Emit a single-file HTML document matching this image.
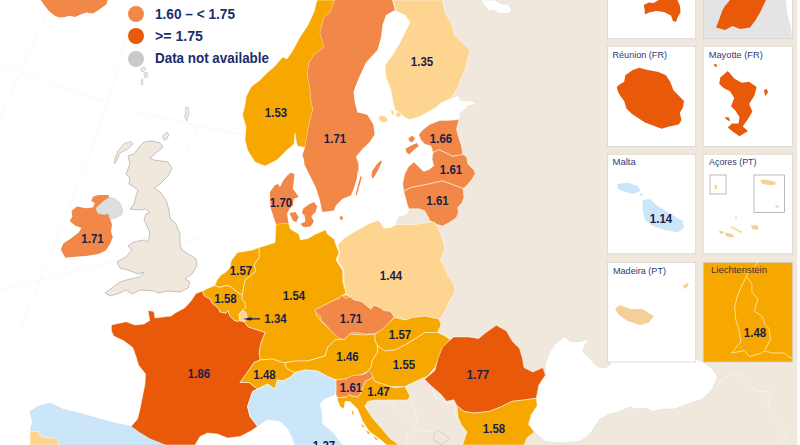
<!DOCTYPE html>
<html><head><meta charset="utf-8"><title>map</title>
<style>
html,body{margin:0;padding:0;background:#fff;}
body{width:800px;height:445px;overflow:hidden;font-family:"Liberation Sans",sans-serif;}
svg{display:block}
.v{font:bold 12.3px "Liberation Sans",sans-serif;fill:#1b1e46}
.lg{font:bold 14px "Liberation Sans",sans-serif;fill:#1b2d6b}
.pl{font:9.5px "Liberation Sans",sans-serif;fill:#2c3a78}
</style></head><body>
<svg width="800" height="445" viewBox="0 0 800 445">
<rect width="800" height="445" fill="#fff"/>
<g stroke="#f6f6f6" stroke-width="0.8" fill="none">
<path d="M45,17 L0,118"/><path d="M0,65 L108,103"/><path d="M133,17 L104,111 L75,194 L20,330"/><path d="M133,111 L200,126 L320,150"/><path d="M200,124 L182,161"/><path d="M0,290 L120,260 L200,238"/>
</g>
<polygon points="430,0 800,0 800,445 394,445 388,438 378,427 370,416.5 366,406.5 360,390 340,380 330,360 345,250 395.8,226 395.8,224.6 397.1,219.8 398.5,217 406.8,214.3 408.8,210 412,196 440,186 447,160 447,140 459,119 459.7,112.7 464,110 468,105 475.5,103.9 473,102 460.4,100.8 457.9,95.7 450.3,99 440,90 430,50" fill="#f0e8dd"/>
<polygon points="480,0 485,6 489,11 493,10 499,13.5 509,13.5 512,10 508,4 503,4.5 498,2 495,0" fill="#fff" stroke="#d8d8d8" stroke-width="0.5" stroke-linejoin="round"/>
<polygon points="545.4,375 545,364 550,351.5 555,344 565,336.5 570,341.5 580,341.5 589,339 585,345 582.5,351.5 587.5,356.5 597.5,366.5 605,368 610,365 612,355 696,355 696,359 705,363 712.5,369 717.5,376.5 712.5,389 702.5,399 687.5,404 675,409 662.5,409 652.5,411.5 645,408 635,409 630,406.5 620,411.5 610,414 600,419 590,434 580,441.5 560,443 545,441.5 534.3,432 528.4,424.6 531.3,414.4 537.2,405.6 536.3,398.3 538.7,385.2" fill="#fff" stroke="#d8d8d8" stroke-width="0.5" stroke-linejoin="round"/>
<polygon points="144,142 152,141 160,143 163,147 150,158 154,160 168,162 172,168 168,176 160,184 154,188 160,192 166,200 169,210 170,218 176,224 180,234 180,244 182,250 190,255 196,259 197,266 192,274 185,279 190,282 188,288 180,292 168,291 158,293 154,291 140,290 132,294 126,290 120,293 110,296 105,293 112,288 120,282 130,279 140,277 144,272 138,274 128,270 120,268 117,262 126,257 132,250 128,246 134,242 144,240 148,242 150,234 148,228 144,220 146,214 150,213 146,209 140,210 130,209 134,204 136,196 138,190 134,187 129,184 130,178 126,174 130,164 128,156 134,154 140,146" fill="#f0e8dd" stroke="#b4b4b4" stroke-width="0.8" stroke-linejoin="round"/>
<polygon points="124,143.5 131,141.5 133,144 128,149 120,153 117,160 114.5,164 115,158 118,151" fill="#f0e8dd" stroke="#b4b4b4" stroke-width="0.7" stroke-linejoin="round"/>
<polygon points="163,135 167,132 169,135 166,140 163,139" fill="#f0e8dd" stroke="#b4b4b4" stroke-width="0.6" stroke-linejoin="round"/>
<polygon points="93,196.7 98.5,195 108.3,195 109.2,197.6 103.9,201 97.6,206.5 95.8,209 98.5,213.7 103.9,214.6 108.3,213.7 110.1,219 112,224.5 111,231.7 112.8,237 110.1,244 105.7,250.5 98.5,254 85.9,256 75,256.8 65.3,257.7 60.8,249.6 63.5,243.3 71.5,238 78.7,232.6 81.4,228 75,225.4 69.7,221 72.4,216.4 71.5,211 77,206.5 85.9,208.3 93,207.4 94.9,203 91.3,201" fill="#f28848"/>
<polygon points="109.2,197.6 114.6,198.5 120,203 122.7,210 121.8,214.6 115.5,218 110.1,219 108.3,213.7 103.9,214.6 98.5,213.7 95.8,209 97.6,206.5 103.9,201" fill="#dedede" stroke="#c4c4c4" stroke-width="0.6" stroke-linejoin="round"/>
<polygon points="40.7,0 44.6,5.6 49.1,11.2 54.7,15.7 59.2,17.4 64.9,16.9 69.4,15.7 75,16.9 80.6,14.6 86.2,12.4 93,13.5 97.5,10.7 103.1,6.7 106.5,3.9 107.6,0" fill="#f28848"/>
<polygon points="317,0 314,12 308,25 300,37 293,50 287,59 283,57 280,60 275,66 268,72 260,80 251,87 246,97 245,105 242.5,115 246,127 245,140 247.5,150 255,162 265,166 277,160 287,150 294,144 295,133 296,140 297.5,146 305,147.5 307.5,132.5 310,120 313,110 311,100 310,87.5 307.5,75 309,62.5 315,54 324,47.5 320,32.5 324,17.5 330,12.5 335,0" fill="#f7a800" stroke="#fff" stroke-width="0.5" stroke-linejoin="round"/>
<polygon points="335,0 330,12.5 324,17.5 320,32.5 324,47.5 315,54 309,62.5 307.5,75 310,87.5 311,100 313,110 310,120 307.5,132.5 305,147.5 302.5,155 304,160 304.6,165 310.5,176.8 315.6,186.9 319,197 321.4,207 322.3,212 334,210.5 335.8,205.4 342.5,198.7 351,195.3 354.3,186.9 356.8,178.5 357.6,170 358.5,174 358.5,164 356,156.7 362.2,149.3 369.6,141.9 374.6,134.4 373.3,124.6 367.2,114.7 357.3,112.2 354.8,102.3 353.6,92 355,87.5 359,77.5 366,62.5 377.5,50 381,37.5 382.5,25 386,15 395,10 392.5,0" fill="#f28848"/>
<polygon points="380.7,160.4 382,161.5 379.5,167 376,174 372.5,179 371.5,176 372,171.5 377,164" fill="#f28848"/>
<polygon points="360.5,176 361.8,177 358.8,188 356.5,195.5 355.5,194.5 357.8,186" fill="#f28848"/>
<polygon points="392.5,0 396,11 405,15 410,22.5 405,32.5 400,42.5 392.5,55 385,65 386,77.5 391,90 392.5,100 395,110 400,112.7 405,117.7 410,119.6 420,116.5 429,111.5 436.5,107 441.5,102.6 450,99 454,94 458.5,86.3 460.4,80 465,70 470,50 454,35 452.5,25 445,12.5 442.5,0" fill="#fdd490" stroke="#fff" stroke-width="0.5" stroke-linejoin="round"/>
<polygon points="378.5,117 382,115.5 386,117 388,121 384,122.5 380,121" fill="#fdd490"/>
<polygon points="391,111 393,110 394,114 392,115" fill="#fdd490"/>
<polygon points="396,113 400,112 401,116 397,117" fill="#fdd490"/>
<polygon points="418.8,134.6 422.5,130 430,124.3 439.5,120.5 450.3,120.3 458.4,119.5 459.3,118.6 456.5,129 458.4,136.5 461.2,145 463,154.5 452.7,156.3 445.2,152.6 438.6,149.7 433,152.6 431,146 424.4,144 420.6,139.4" fill="#f28848" stroke="#fff" stroke-width="0.5" stroke-linejoin="round"/>
<polygon points="408.4,138.4 412.2,135.6 415,138.4 412.2,142.2 409.3,141.2" fill="#f28848"/>
<polygon points="405.5,148.8 410.3,146 416.9,143 418.8,146 414,149.7 409.3,154.5 406.5,152.6" fill="#f28848"/>
<polygon points="433,152.6 438.6,149.7 445.2,152.6 452.7,156.3 463,154.5 466.9,157.3 467.8,163.9 473.5,169.5 475.4,173.3 471.6,180 465,187.5 463,188.4 452.7,184.6 442.3,180.9 426.3,184.6 411.2,187.5 403.7,191.2 402.7,183.7 404.6,174.3 408.4,166.7 414,162 418.8,166.7 423.5,171.4 429,169.5 433.8,165.8 432,159.2" fill="#f28848" stroke="#fff" stroke-width="0.5" stroke-linejoin="round"/>
<polygon points="403.7,191.2 411.2,187.5 426.3,184.6 442.3,180.9 452.7,184.6 463,188.4 464,197.5 461.8,203.3 457.7,207.4 458.4,212.9 456.3,217.7 449.4,222.5 442.5,226 437,224.6 430.2,221 427.4,215.6 424.6,210.8 419,208.8 408.8,208.8 407.5,205.3 405,196" fill="#f28848" stroke="#fff" stroke-width="0.5" stroke-linejoin="round"/>
<polygon points="317.5,309 330,302.5 341,297.5 346,295 352.5,299 362.5,302.5 372.5,307.5 377.5,305 387.5,311 395,317.5 387.5,324 382.5,329 375,334 362.5,335 350,334 345,339 335,334 327.5,327 322.5,322.5 316,315" fill="#f7a800"/>
<polygon points="337.5,245 345,237.5 357.5,230 360,228.7 368.3,223.9 377.9,220.4 380.6,222.5 383.4,228 390.3,228 395.8,224.6 415,224.6 431.5,221.8 435,222.5 438.4,228 441.2,234.9 443,240 445,250 440,260 445,267.5 447.5,275 454,285 455,292.5 450,300 445,311 441,318 439,319 425,316 412.5,317.5 405,320 394.3,316.7 390.2,311.3 383.5,310.6 380.8,307.9 374,305.2 370.7,309.3 365.9,305.2 361.9,301.8 353.8,299.8 349.8,296.5 346,294.5 344,282.5 344,270 337.5,260 340,252.5" fill="#fdd490" stroke="#fff" stroke-width="0.5" stroke-linejoin="round"/>
<polygon points="259,247.5 267.5,245 275,242.5 276,224 288.6,223 290.3,229 298.7,234 300.4,240 308,238.5 315.6,234 325.7,229.8 327.3,234 334,239 336,245 339,252.5 336,260 342.5,270 343,282.5 346,293 340,297.5 330,302.5 317.5,309 316,315 322.5,322.5 327.5,327 335,334 345,339 335,340 327.5,347.5 325,356 307.5,361 295,361 286,362.5 282.5,362.5 272.5,359 260,360 259,352.5 261,342.5 265,332.5 248,327 244.4,322 247,317.6 245.7,312 242,310.8 245.7,307 244.4,301.6 242,299.7 242,295.4 243,290 245,280 256,271 254,265 259,257.5" fill="#f7a800" stroke="#fff" stroke-width="0.5" stroke-linejoin="round"/>
<polygon points="291,172.6 294.5,174.3 293.7,181.8 292.8,188.6 297,194.5 298.7,197 293.7,198.7 292.8,205.4 289.5,208.8 287,213.8 287.8,218.9 288.6,223 276,224 273.5,217 271,208.8 270,198.7 270,192 275,185 278,184 280,187 282,183 283.6,180 287.8,175" fill="#f28848"/>
<polygon points="289.5,213 295.4,212 298.7,217.2 296.2,222.2 292.8,220.6" fill="#f28848"/>
<polygon points="303,208.8 308.8,204.6 313.9,202 317.2,206.2 315.6,212 311.3,216.3 313.9,221.4 310.5,226.4 303.8,227.3 300.4,224 305.5,221.4 304.6,215.5 302,213" fill="#f28848"/>
<polygon points="340.8,215.5 343.3,218 341.6,220.6 339.5,218" fill="#f28848"/>
<polygon points="231,261 237.5,252.5 252.5,250 259,247.5 259,257.5 254,265 256,271 245,280 243,290 242,295.4 239.5,293.5 234.5,289.8 230.8,286.7 225.9,285.5 219.7,287.4 214.8,285.5 217,280 221,275 226,272 230,267.5" fill="#f7a800" stroke="#fff" stroke-width="0.5" stroke-linejoin="round"/>
<polygon points="202.4,291 208.6,288 214.8,285.5 219.7,287.4 225.9,285.5 230.8,286.7 234.5,289.8 239.5,293.5 242,295.4 242,299.7 244.4,301.6 245.7,307 242,310.8 238.9,314.5 240,320.7 237.6,321.4 234.5,320.7 229.6,315.8 227.8,310.8 225.9,313.3 219.7,312 218.5,308.4 212.3,303.4 209.8,299 204.3,296" fill="#f7a800" stroke="#fff" stroke-width="0.5" stroke-linejoin="round"/>
<polygon points="202.4,291 204.3,296 209.8,299 212.3,303.4 218.5,308.4 219.7,312 225.9,313.3 227.8,310.8 229.6,315.8 234.5,320.7 237.6,321.4 240,320.7 244.4,322 248,327 265,332.5 261,342.5 259,352.5 260,360 254,362.5 249,370 240,382.5 249,382.5 257.5,389 252.5,391.5 250,399 247.5,406.5 250,416.5 257.5,426.5 250,431.5 240,436.5 227.5,438 217.5,434 207.5,433 200,436.5 195,445 165,445 150,439 140,433 131,426.5 137.5,419 140,409 142.5,396.5 145,384 145.5,374 138.5,365 136,356.6 132.8,347.6 123.8,340.8 113.6,336 111.4,330.7 111.4,325 126,321.7 135,325 144,324 149.7,320.5 148,310.4 154,311.5 155,318 171,316 175.6,312.7 184.6,308 191,301 196,293.5" fill="#e85a0a" stroke="#fff" stroke-width="0.5" stroke-linejoin="round"/>
<polygon points="242,310.8 245.7,312 247,317.6 244.4,322 240,320.7 238.9,314.5" fill="#fdd490" stroke="#fff" stroke-width="0.4" stroke-linejoin="round"/>
<polygon points="260,360 272.5,359 282.5,362.5 286,362.5 285,365 287.5,369 295,372.5 290,377.5 282.5,381 277.5,380 275,389 267.5,384 257.5,389 249,382.5 240,382.5 249,370 254,362.5" fill="#f7a800" stroke="#fff" stroke-width="0.5" stroke-linejoin="round"/>
<polygon points="286,362.5 295,361 307.5,361 325,356 327.5,347.5 335,340 345,339 350,334 362.5,335 375,334 375,340 377.5,346 377.5,352.5 372.5,360 371,367.5 367.5,371.5 357.5,376.5 345,379 336,380 327.5,376.5 317.5,371 305,370 295,372.5 287.5,369 285,365" fill="#f7a800" stroke="#fff" stroke-width="0.5" stroke-linejoin="round"/>
<polygon points="314.7,310 322.8,305.9 330.9,301.8 339.7,297.8 341.7,295.1 345.7,298.5 349.8,296.5 353.8,299.8 361.9,301.8 365.9,305.2 370.7,309.3 374,305.2 380.8,307.9 383.5,310.6 390.2,311.3 394.3,316.7 390.9,320.7 387.5,325.4 382.1,330.1 375.4,333.5 366,334.2 357.9,332.8 351.1,332.8 347.1,336.9 343.7,339.6 338.3,337.6 332.3,332.2 326.9,326.1 321.5,320.7 320.1,316 316.8,313.3" fill="#f28848" stroke="#fff" stroke-width="0.5" stroke-linejoin="round"/>
<polygon points="395,317.5 405,320 412.5,317.5 425,316 439,319 441,325 437.5,332.5 425,332.5 415,339 405,345 395,350 385,351 377.5,346 375,340 375,334 382.5,329 387.5,324" fill="#f7a800" stroke="#fff" stroke-width="0.5" stroke-linejoin="round"/>
<polygon points="377.5,352.5 377.5,346 385,351 395,350 405,345 415,339 425,332.5 437.5,332.5 445,336 450,340 442.5,347.5 439,357.5 435,367.5 427.5,376 415,381.5 405,386.5 390,386.5 375,381.5 371,374 367.5,371.5 371,367.5 372.5,360" fill="#f7a800" stroke="#fff" stroke-width="0.5" stroke-linejoin="round"/>
<polygon points="372.7,376.6 375,381.5 382.5,384 395,388 405,386.5 410,396.5 407.5,400 392.5,400 375,400 367.5,401.5 365,406.5 372,417.5 381,428 390,438.5 396,443 399,445 387,445 381,440 369,431 362.5,421 357.5,409 350,401.5 345,401.5 344,409 340,406.5 337.5,400 337.5,397.7 346.7,396.8 349.4,394.5 352,395.9 357.4,396.8 360.1,394.5 361.9,389.2 363.7,384.7 365.5,381 370,378.8" fill="#f7a800" stroke="#fff" stroke-width="0.5" stroke-linejoin="round"/>
<polygon points="335.5,382.9 335.8,380 338.6,379.5 346,378.8 352,375.7 361.9,374.8 366.4,373 368.2,370.3 371.8,373.9 372.7,376.6 370,378.8 365.5,381 363.7,384.7 361.9,389.2 360.1,394.5 357.4,396.8 352,395.9 349.4,394.5 346.7,396.8 337.5,397.7 336,394.5 335.9,390 336,386.5" fill="#f28848" stroke="#fff" stroke-width="0.5" stroke-linejoin="round"/>
<polygon points="424.6,379.3 434.9,370.6 437.8,358.9 442.5,347 450,340 453.9,336.9 468.5,336.9 478.7,338.4 486,332.5 496.3,325.2 506.5,331 512.3,341.3 519.6,348.6 522.6,358.9 524,367.6 532.8,372 543,367.6 545.4,375 538.7,385.2 536.3,398.3 525.5,399.8 512.3,401.3 500.6,407 489,411.5 474.3,413 464,411.5 456.8,405.6 453.9,399.8 446.5,401.3 440.7,394 431.9,386.6" fill="#e85a0a" stroke="#fff" stroke-width="0.5" stroke-linejoin="round"/>
<polygon points="456.8,405.6 464,411.5 474.3,413 489,411.5 500.6,407 512.3,401.3 525.5,399.8 536.3,398.3 537.2,405.6 531.3,414.4 528.4,424.6 534.3,432 527,437.8 524,445 462.6,445 467,432 461.2,424.6 458.2,417.3" fill="#f7a800" stroke="#fff" stroke-width="0.5" stroke-linejoin="round"/>
<polygon points="252.5,391.5 257.5,389 267.5,384 275,389 277.5,380 282.5,381 290,377.5 295,372.5 305,370 317.5,371 327.5,376.5 336,380 336,390 335,395 325,399 320,404 322.5,414 322.5,424 332.5,431.5 340,441.5 342.5,445 294,445 292.5,439 287.5,429 280,421.5 267.5,420 257.5,426.5 250,416.5 247.5,406.5 250,399" fill="#cbe5f9" stroke="#fff" stroke-width="0.5" stroke-linejoin="round"/>
<polygon points="30,411.5 37.5,406.5 50,403 62.5,409 82.5,414 100,419 115,423 131,426.5 140,433 150,439 165,445 60,445 57.5,439 41,436.5 39,431.5 30,431.5 32.5,421.5" fill="#cbe5f9" stroke="#c9d6e2" stroke-width="0.5" stroke-linejoin="round"/>
<polygon points="30,431.5 39,431.5 41,436.5 57.5,439 60,445 30,445" fill="#fdd490" stroke="#fff" stroke-width="0.5" stroke-linejoin="round"/>
<g fill="none" stroke="#f8f4ec" stroke-width="0.8" stroke-linejoin="round">
<polyline points="716,387 723.5,378 732.5,373.5 743,376.5 752,387 758,391.5 770,391.5 767,399 770,411 779,424.5 788,433.5 782,441 770,445"/>
<polyline points="411.7,399.5 417,417.5 415.5,429.5 408,434 406.5,445"/>
<polyline points="415.5,429.5 425,432 435,430"/>
<polyline points="432.5,389.5 436,398 446,402 455,404 456,417.5"/>
<polyline points="390,400 398,412 408,420 415.5,422"/>
</g>
<polyline points="435,430 433.5,440 441,445 450,438.5 444,434 437,430" fill="none" stroke="#b9b5ad" stroke-width="0.5"/>
<g fill="#f0e8dd" stroke="#b4b4b4" stroke-width="0.5">
<polygon points="141,68 144,66.5 146,69 143,72 141,71"/><polygon points="144,73 147,72 148,76 145,78"/><polygon points="141,80 142.5,79 143,84 141.5,85"/>
<polygon points="185,108 188,107 189,113 187,121 184.5,117 186,112"/>
</g>
<g fill="#f7a800">
<polygon points="361,424 364,426 363,428"/><polygon points="366,430 370,433 368,434"/><polygon points="373,436 378,439 376,440"/><polygon points="352,410 354,413 352.5,415"/>
</g>
<g><rect x="607.5" y="-10" width="88.25" height="48.75" fill="#fff" stroke="#d3d1cb" stroke-width="0.7"/>
<rect x="703.25" y="-10" width="89.25" height="48.75" fill="#e4e4e4" stroke="#d3d1cb" stroke-width="0.7"/>
<rect x="607.5" y="46.25" width="88.25" height="100.25" fill="#fff" stroke="#d3d1cb" stroke-width="0.7"/>
<rect x="703.25" y="46.25" width="89.25" height="100.25" fill="#fff" stroke="#d3d1cb" stroke-width="0.7"/>
<rect x="607.5" y="154.25" width="88.25" height="99.5" fill="#fff" stroke="#d3d1cb" stroke-width="0.7"/>
<rect x="703.25" y="154.25" width="89.25" height="99.5" fill="#fff" stroke="#d3d1cb" stroke-width="0.7"/>
<rect x="607.5" y="262.5" width="88.25" height="99.5" fill="#fff" stroke="#d3d1cb" stroke-width="0.7"/>
<rect x="703.25" y="262.5" width="89.25" height="99.5" fill="#f7a800" stroke="#d3d1cb" stroke-width="0.7"/></g>
<g><polygon points="643.75,5 648.75,2.5 653.75,3 658.75,0 677.5,0 680,6 680.5,12.5 677.5,17.5 676,22 673,21 671,15.5 664,12 656,11 649,12.5 645,14.5 644.5,9" fill="#e85a0a"/>
<polygon points="786,0 792.1,0 792.1,38.3 791,27.5 787.5,15" fill="#fff"/>
<polygon points="722.5,10 725,6 730,0 766,0 760,12.5 755,21 750,27.5 740,29 732.5,26 725,30 716,27.5 719,20" fill="#e85a0a"/>
<polygon points="616.8,87 618.9,84.9 624.2,81.7 625.3,75.3 632.8,70 639.2,67.8 647.7,70 658.4,72 665.9,75.3 670.2,81.7 673.4,90.3 679.8,96.7 684,100.9 683,107.4 679.8,112.7 681.5,120.2 678.7,124.4 669.1,126.6 661.6,128.7 653,125.5 644.5,122.3 638.1,118 631.7,113.8 626.4,108.4 624.2,101 620,95.6 617.8,91.3" fill="#e85a0a"/>
<polygon points="727.8,71 734.2,78.5 741.7,82.8 749.1,81.7 756.6,87 754.5,95.6 749.1,104 752.4,111.6 748,119 742.7,126.6 748,130.9 739.5,136.2 732,130.9 727.8,127.6 732,123.4 738.5,123.4 739.5,117 735.3,110.6 731,106.3 734.2,97.7 730,91.3 723.5,88 719.2,83.8 720.3,77.4" fill="#e85a0a"/>
<polygon points="764,90.3 766.7,88.8 768,92.4 765.2,96" fill="#e85a0a"/>
<polygon points="714,64 716.5,64.3 717,66.8 714.5,66.5" fill="#e85a0a"/>
<polygon points="724.6,117 729,117.5 730,121.2 727,120" fill="#e85a0a"/>
<polygon points="617.5,184 627.5,182.5 637.5,186 641,191 632.5,194 622.5,191 617.5,189" fill="#cbe5f9"/>
<polygon points="640,193.5 643,194 642,196 640,195.5" fill="#cbe5f9"/>
<polygon points="642.5,200 650,199 657.5,206 672.5,215 682.5,221 684,227.5 677.5,232.5 665,230 652.5,226 645,220 642.5,210" fill="#cbe5f9"/>
<rect x="710" y="175" width="16" height="19" fill="none" stroke="#8a8a8a" stroke-width="0.6"/>
<rect x="754" y="175" width="30.5" height="37.5" fill="none" stroke="#8a8a8a" stroke-width="0.6"/>
<polygon points="714.5,185 717,185 717,189 714.5,189" fill="#f6cf98"/>
<polygon points="760,180 765,179.5 772,181 776,182 775,185 768,185 762,183.5" fill="#f6cf98"/>
<polygon points="775,205.5 778,205.5 779,207.5 776,207.5" fill="#f6cf98"/>
<polygon points="735,217 737,217 737,218.5 735,218.5" fill="#f6cf98"/>
<polygon points="730,227 732,226.5 742.5,232 741,233" fill="#f6cf98"/>
<polygon points="751,225.5 757,225 759,228 756,230 752,229" fill="#f6cf98"/>
<polygon points="719,231 723,231 724,233.5 720,234" fill="#f6cf98"/>
<polygon points="725,232.5 731,233.5 735,236.5 730,237.5 726,236" fill="#f6cf98"/>
<polygon points="615,309 620,305 630,309 642.5,309 650,314 654,316 649,322.5 640,325 627.5,321 619,315" fill="#f6cf98"/>
<polygon points="682.5,286 687.5,283 689,285 685,289" fill="#f6cf98"/>
<polyline points="758,262.6 749.4,270.3 745.7,277.8 740.7,287.6 737,297.5 734.6,307.4 735.8,319.7 739.5,332 740.7,342 734.6,349.4 731.6,353 744.4,350.6 749.4,356.8 761.7,353 764.7,350.6 770.4,339.5 769,328.4 765.4,324.7 761.7,316 754.3,311 758,298.7 751.9,292.6 751.9,284 746.5,276.5" fill="none" stroke="#fff3d6" stroke-width="0.7" stroke-linejoin="round"/>
<polyline points="764.7,351.3 774,353 784,353 789,356.8 791.9,358" fill="none" stroke="#fff3d6" stroke-width="0.7" stroke-linejoin="round"/></g>
<!-- arrow -->
<path d="M243,318.9 L250.5,317.2 L252.5,318.3 L260,318.3 L260,319.5 L252.5,319.5 L250.5,320.6 Z" fill="#1d2555"/>
<rect x="797.3" y="0" width="3" height="445" fill="#fff"/>
<g><text x="264.85" y="116.8" class="v" textLength="22.3" lengthAdjust="spacingAndGlyphs">1.53</text>
<text x="323.85" y="143.3" class="v" textLength="22.3" lengthAdjust="spacingAndGlyphs">1.71</text>
<text x="410.85" y="66.3" class="v" textLength="22.3" lengthAdjust="spacingAndGlyphs">1.35</text>
<text x="269.85" y="206.8" class="v" textLength="22.3" lengthAdjust="spacingAndGlyphs">1.70</text>
<text x="81.35" y="243.3" class="v" textLength="22.3" lengthAdjust="spacingAndGlyphs">1.71</text>
<text x="429.85" y="143.3" class="v" textLength="22.3" lengthAdjust="spacingAndGlyphs">1.66</text>
<text x="439.85" y="174.3" class="v" textLength="22.3" lengthAdjust="spacingAndGlyphs">1.61</text>
<text x="426.35" y="205.3" class="v" textLength="22.3" lengthAdjust="spacingAndGlyphs">1.61</text>
<text x="229.85" y="275.3" class="v" textLength="22.3" lengthAdjust="spacingAndGlyphs">1.57</text>
<text x="214.35" y="303.3" class="v" textLength="22.3" lengthAdjust="spacingAndGlyphs">1.58</text>
<text x="282.85" y="300.3" class="v" textLength="22.3" lengthAdjust="spacingAndGlyphs">1.54</text>
<text x="264.35" y="323" class="v" textLength="22.3" lengthAdjust="spacingAndGlyphs">1.34</text>
<text x="379.85" y="280.3" class="v" textLength="22.3" lengthAdjust="spacingAndGlyphs">1.44</text>
<text x="339.85" y="323.3" class="v" textLength="22.3" lengthAdjust="spacingAndGlyphs">1.71</text>
<text x="388.85" y="339.3" class="v" textLength="22.3" lengthAdjust="spacingAndGlyphs">1.57</text>
<text x="336.35" y="361.3" class="v" textLength="22.3" lengthAdjust="spacingAndGlyphs">1.46</text>
<text x="392.85" y="369.3" class="v" textLength="22.3" lengthAdjust="spacingAndGlyphs">1.55</text>
<text x="187.85" y="378.3" class="v" textLength="22.3" lengthAdjust="spacingAndGlyphs">1.86</text>
<text x="253.35" y="378.8" class="v" textLength="22.3" lengthAdjust="spacingAndGlyphs">1.48</text>
<text x="339.85" y="391.5" class="v" textLength="22.3" lengthAdjust="spacingAndGlyphs">1.61</text>
<text x="367.35" y="396.3" class="v" textLength="22.3" lengthAdjust="spacingAndGlyphs">1.47</text>
<text x="466.85" y="379.3" class="v" textLength="22.3" lengthAdjust="spacingAndGlyphs">1.77</text>
<text x="482.85" y="433.3" class="v" textLength="22.3" lengthAdjust="spacingAndGlyphs">1.58</text>
<text x="312.85" y="449.8" class="v" textLength="22.3" lengthAdjust="spacingAndGlyphs">1.27</text>
<text x="649.85" y="223.3" class="v" textLength="22.3" lengthAdjust="spacingAndGlyphs">1.14</text>
<text x="743.85" y="336.8" class="v" textLength="22.3" lengthAdjust="spacingAndGlyphs">1.48</text></g>
<circle cx="136" cy="14" r="8" fill="#f28848"/><circle cx="136" cy="36" r="8" fill="#e85a0a"/><circle cx="136" cy="59" r="8" fill="#c9c9c9"/>
<text x="155" y="18.5" class="lg" textLength="80" lengthAdjust="spacingAndGlyphs">1.60 – &lt; 1.75</text>
<text x="155" y="41" class="lg" textLength="48" lengthAdjust="spacingAndGlyphs">&gt;= 1.75</text>
<text x="155" y="63" class="lg" textLength="114" lengthAdjust="spacingAndGlyphs">Data not available</text>
<text x="612.5" y="57.6" class="pl" textLength="54.5" lengthAdjust="spacingAndGlyphs">Réunion (FR)</text>
<text x="708.75" y="57.6" class="pl" textLength="54" lengthAdjust="spacingAndGlyphs">Mayotte (FR)</text>
<text x="612.5" y="165.4" class="pl">Malta</text>
<text x="709" y="165.4" class="pl" textLength="47.5" lengthAdjust="spacingAndGlyphs">Açores (PT)</text>
<text x="613" y="273.8" class="pl" textLength="53" lengthAdjust="spacingAndGlyphs">Madeira (PT)</text>
<text x="711" y="273.3" class="pl" style="fill:#3b3038" textLength="56" lengthAdjust="spacingAndGlyphs">Liechtenstein</text>
</svg>
</body></html>
